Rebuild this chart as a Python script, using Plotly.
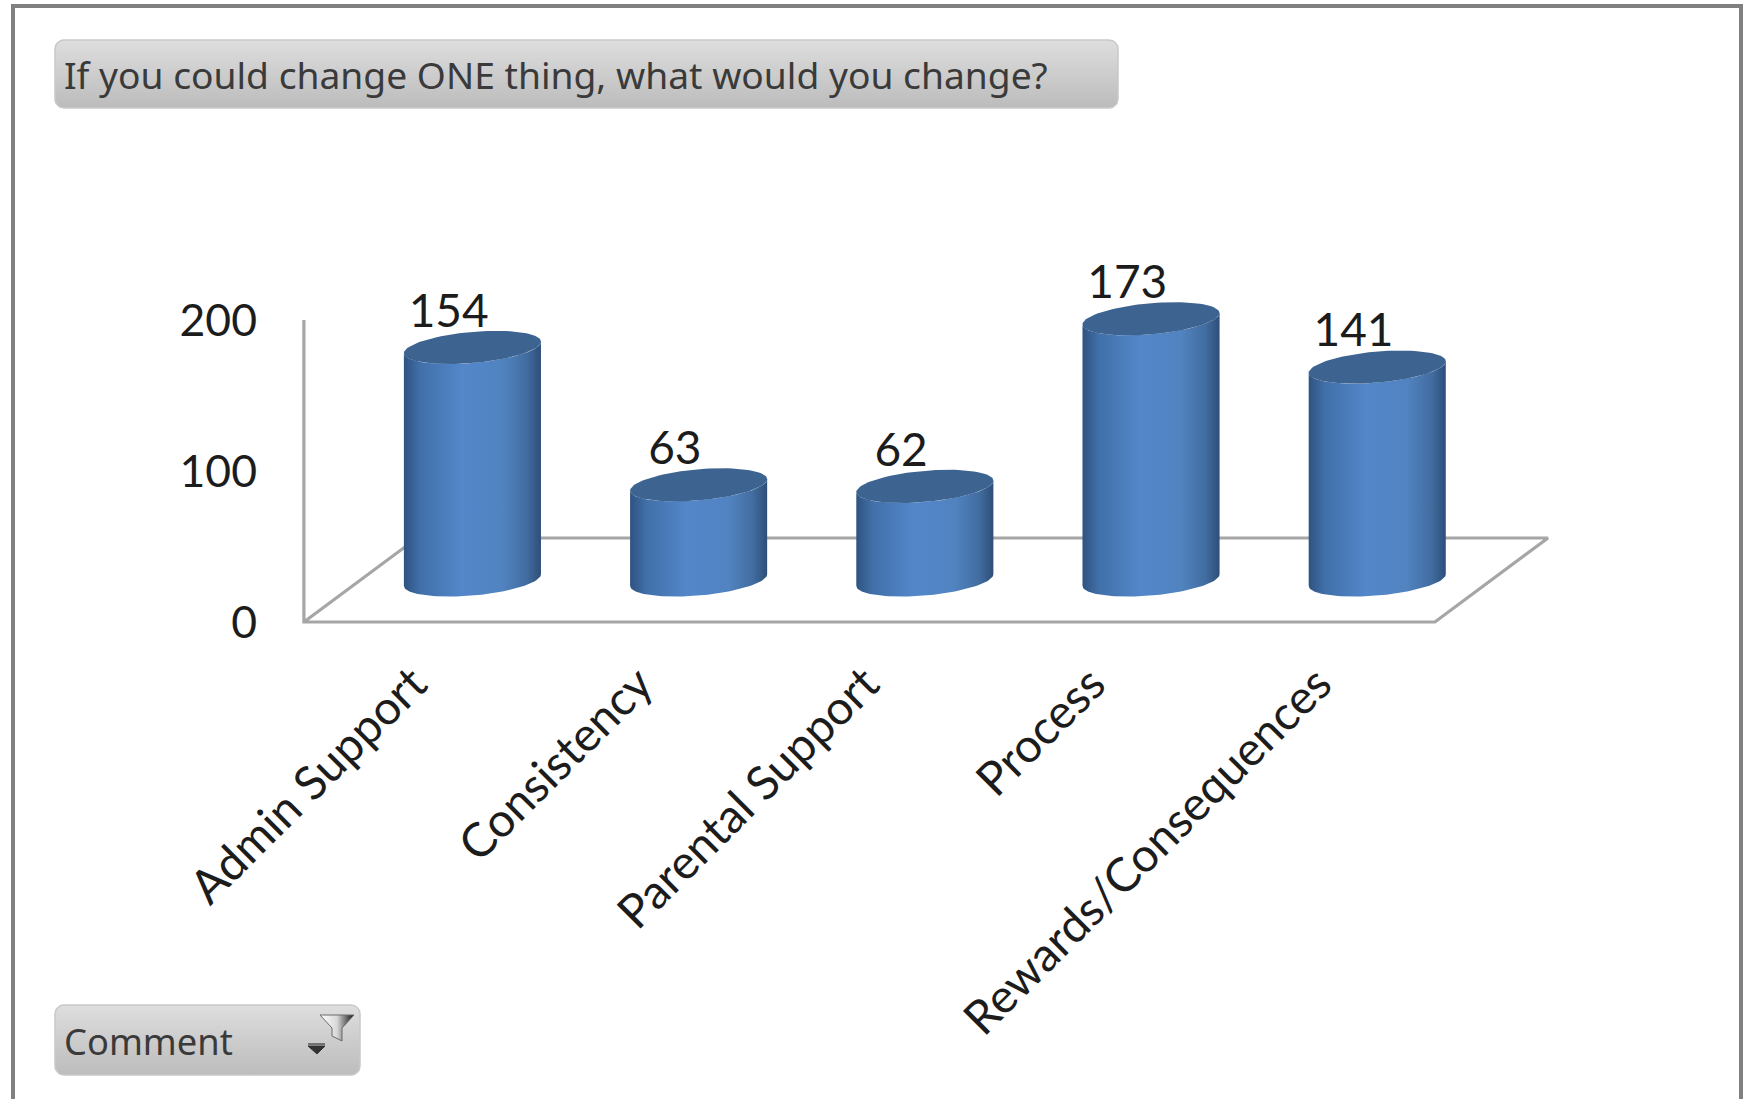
import numpy as np
import plotly.graph_objects as go

# Chart values
categories = ["Admin Support", "Consistency", "Parental Support", "Process", "Rewards/Consequences"]
counts = [154, 63, 62, 173, 141]
y_ticks = [0, 100, 200]
title_text = "If you could change ONE thing, what would you change?"
filter_text = "Comment"

WIDTH, HEIGHT = 1743, 1099

# Pseudo-3D geometry, in axis units
FLOOR_DEPTH_Y = 55.6
FLOOR_DEPTH_X = 0.5
BASE_Y = FLOOR_DEPTH_Y / 2
BASE_X = 0.245
RADIUS_X = 0.303
RADIUS_Y = 10.3
TILT_Y = 3.8
LABEL_SHIFT = -0.018

WALL = "#a6a6a6"
TEXT = "#1c1c1c"
SIDE_SCALE = [[0, "#2f5380"], [0.12, "#4170a9"], [0.42, "#5387ca"], [0.72, "#5183c0"], [0.9, "#416c9f"], [1, "#2e4e78"]]
CAP = "#3d6390"


def arc(cx, cy, start, stop, n=60):
    t = np.linspace(start, stop, n)
    return cx + RADIUS_X * np.cos(t), cy + RADIUS_Y * np.sin(t) + TILT_Y * np.cos(t)


fig = go.Figure()

# Floor outline and back wall edge
fig.add_trace(go.Scatter(
    x=[-0.5, -0.5, 4.5, 4.5 + FLOOR_DEPTH_X, -0.5 + FLOOR_DEPTH_X, -0.5],
    y=[y_ticks[-1], 0, 0, FLOOR_DEPTH_Y, FLOOR_DEPTH_Y, 0],
    mode="lines", line=dict(color=WALL, width=3.2), hoverinfo="skip", showlegend=False,
))

# One cylinder per category: curved side, then the top cap
for i, value in enumerate(counts):
    cx = i + BASE_X
    top = BASE_Y + value
    lx, ly = arc(cx, BASE_Y, np.pi, 2 * np.pi)
    ux, uy = arc(cx, top, 2 * np.pi, np.pi)
    fig.add_trace(go.Scatter(
        x=np.r_[lx, ux], y=np.r_[ly, uy], mode="lines", fill="toself",
        line=dict(width=0), hoverinfo="skip", showlegend=False,
        fillgradient=dict(type="horizontal", colorscale=SIDE_SCALE),
    ))
    ex, ey = arc(cx, top, 0, 2 * np.pi, 90)
    fig.add_trace(go.Scatter(
        x=ex, y=ey, mode="lines", fill="toself", fillcolor=CAP,
        line=dict(width=0), hoverinfo="skip", showlegend=False,
    ))

# Value labels above the caps
fig.add_trace(go.Scatter(
    x=[i + BASE_X - 0.105 for i in range(len(counts))],
    y=[BASE_Y + v + 21.3 for v in counts],
    mode="text", text=[str(v) for v in counts], textposition="middle center",
    textfont=dict(family="Lato", size=46, color=TEXT), hoverinfo="skip", showlegend=False,
))


def rounded(x0, y0, x1, y1, r=9):
    """Outline of a rounded rectangle in the pixel-like overlay axes."""
    xs, ys = [], []
    for cx, cy, a in [(x1 - r, y0 + r, -np.pi / 2), (x1 - r, y1 - r, 0),
                      (x0 + r, y1 - r, np.pi / 2), (x0 + r, y0 + r, np.pi)]:
        t = np.linspace(a, a + np.pi / 2, 8)
        xs += list(cx + r * np.cos(t))
        ys += list(cy + r * np.sin(t))
    return xs + xs[:1], ys + ys[:1]


# Slicer-style buttons and filter icon live on a second, pixel-scaled axis pair
BUTTON_SCALE = [[0, "#bcbcbc"], [1, "#dedede"]]
for box in [(55, 40, 1118, 108), (55, 1005, 360, 1075)]:
    bx, by = rounded(*box)
    fig.add_trace(go.Scatter(
        x=bx, y=by, xaxis="x2", yaxis="y2", mode="lines", fill="toself",
        line=dict(color="#c9c9c9", width=1.5), hoverinfo="skip", showlegend=False,
        fillgradient=dict(type="vertical", colorscale=BUTTON_SCALE),
    ))

fig.add_trace(go.Scatter(
    x=[320, 354, 342, 342, 332, 332, 320], y=[1015, 1015, 1028, 1041, 1036, 1028, 1015],
    xaxis="x2", yaxis="y2", mode="lines", fill="toself",
    line=dict(color="#6a6a6a", width=1), hoverinfo="skip", showlegend=False,
    fillgradient=dict(type="horizontal", colorscale=[[0, "#ffffff"], [0.5, "#d8d8d8"], [1, "#101010"]]),
))
fig.add_trace(go.Scatter(
    x=[308, 325, 317, 308], y=[1046, 1046, 1054, 1046], xaxis="x2", yaxis="y2",
    mode="lines", fill="toself", fillcolor="#333333", line=dict(color="#333333", width=1),
    hoverinfo="skip", showlegend=False,
))
fig.add_trace(go.Scatter(
    x=[308, 325], y=[1044, 1044], xaxis="x2", yaxis="y2", mode="lines",
    line=dict(color="#555555", width=1.5), hoverinfo="skip", showlegend=False,
))

fig.update_layout(
    width=WIDTH, height=HEIGHT, margin=dict(l=0, r=0, t=0, b=0, pad=0),
    paper_bgcolor="white", plot_bgcolor="white", showlegend=False,
    xaxis=dict(
        range=[-1.8435, 5.862], domain=[0, 1], anchor="free", position=1 - 622 / HEIGHT,
        tickmode="array", tickvals=[i + LABEL_SHIFT for i in range(len(categories))], ticktext=categories,
        tickangle=-45, ticks="", showgrid=False, zeroline=False, showline=False,
        ticklabelstandoff=24,
        tickfont=dict(family="Lato", size=47, color=TEXT),
    ),
    yaxis=dict(
        range=[-315.9, 411.9], domain=[0, 1], anchor="free", position=304 / WIDTH,
        tickmode="array", tickvals=y_ticks, ticks="", showgrid=False, zeroline=False,
        showline=False, ticklabelstandoff=47,
        tickfont=dict(family="Lato", size=44.5, color=TEXT),
    ),
    xaxis2=dict(range=[0, WIDTH], overlaying="x", visible=False),
    yaxis2=dict(range=[HEIGHT, 0], overlaying="y", visible=False),
    shapes=[dict(
        type="rect", xref="paper", yref="paper", x0=13 / WIDTH, x1=1741 / WIDTH,
        y0=-0.02, y1=1 - 6 / HEIGHT, line=dict(color="#808080", width=4), fillcolor="rgba(0,0,0,0)",
    )],
    annotations=[
        dict(text=title_text, xref="paper", yref="paper", x=62 / WIDTH, y=1 - 74 / HEIGHT,
             xanchor="left", yanchor="middle", showarrow=False,
             font=dict(family="Noto Sans", size=37.2, color="#3a3a3a")),
        dict(text=filter_text, xref="paper", yref="paper", x=62 / WIDTH, y=1 - 1041 / HEIGHT,
             xanchor="left", yanchor="middle", showarrow=False,
             font=dict(family="Noto Sans", size=36.3, color="#3a3a3a")),
    ],
)

fig.write_html("out.html", config=dict(displayModeBar=False))
